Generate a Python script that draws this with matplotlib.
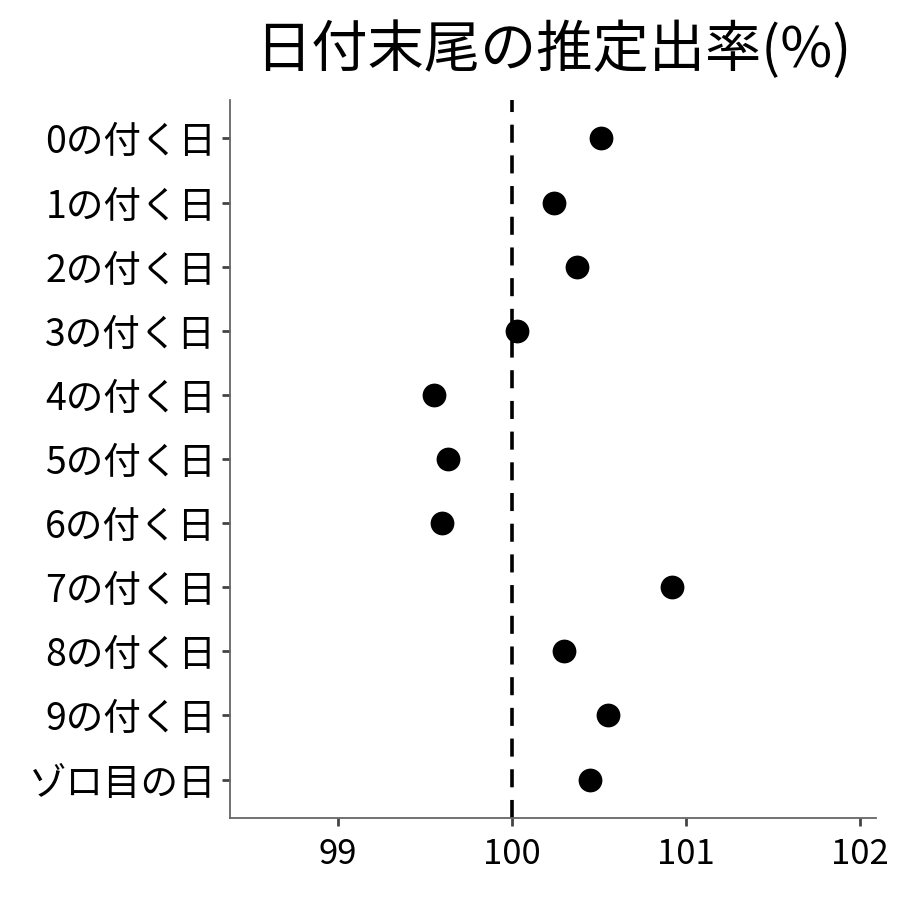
import matplotlib
matplotlib.use("Agg")
import matplotlib.pyplot as plt

plt.rcParams['font.family'] = ['Noto Sans CJK JP', 'DejaVu Sans']

categories = ['0の付く日', '1の付く日', '2の付く日', '3の付く日', '4の付く日',
              '5の付く日', '6の付く日', '7の付く日', '8の付く日', '9の付く日', 'ゾロ目の日']
rates = [100.51, 100.24, 100.37, 100.03, 99.55, 99.63, 99.60, 100.92, 100.30, 100.55, 100.45]
x_ticks = [99, 100, 101, 102]

fig = plt.figure(figsize=(9, 9), dpi=100)
ax = fig.add_axes([0.2556, 0.0911, 0.7177, 0.7978])

ypos = list(range(len(categories)))[::-1]
ax.axvline(100, color='black', lw=2.6, ls=(0, (5, 3.5)), zorder=1)
ax.scatter(rates, ypos, s=260, color='black', zorder=3)

ax.set_xlim(98.38, 102.09)
ax.set_ylim(-0.6, len(categories) - 1 + 0.6)
ax.set_xticks(x_ticks)
ax.set_xticklabels([str(t) for t in x_ticks])
ax.set_yticks(ypos)
ax.set_yticklabels(categories)

for s in ['top', 'right']:
    ax.spines[s].set_visible(False)
for s in ['left', 'bottom']:
    ax.spines[s].set_color('#666666')
    ax.spines[s].set_linewidth(1.3)
ax.tick_params(axis='both', length=6, width=2, color='#444444', labelcolor='black')
ax.tick_params(axis='x', pad=8, labelsize=25)
ax.tick_params(axis='y', pad=4, labelsize=27)

ax.set_title('日付末尾の推定出率(%)', fontsize=40.5, pad=24)

fig.savefig('out.png', dpi=100)
